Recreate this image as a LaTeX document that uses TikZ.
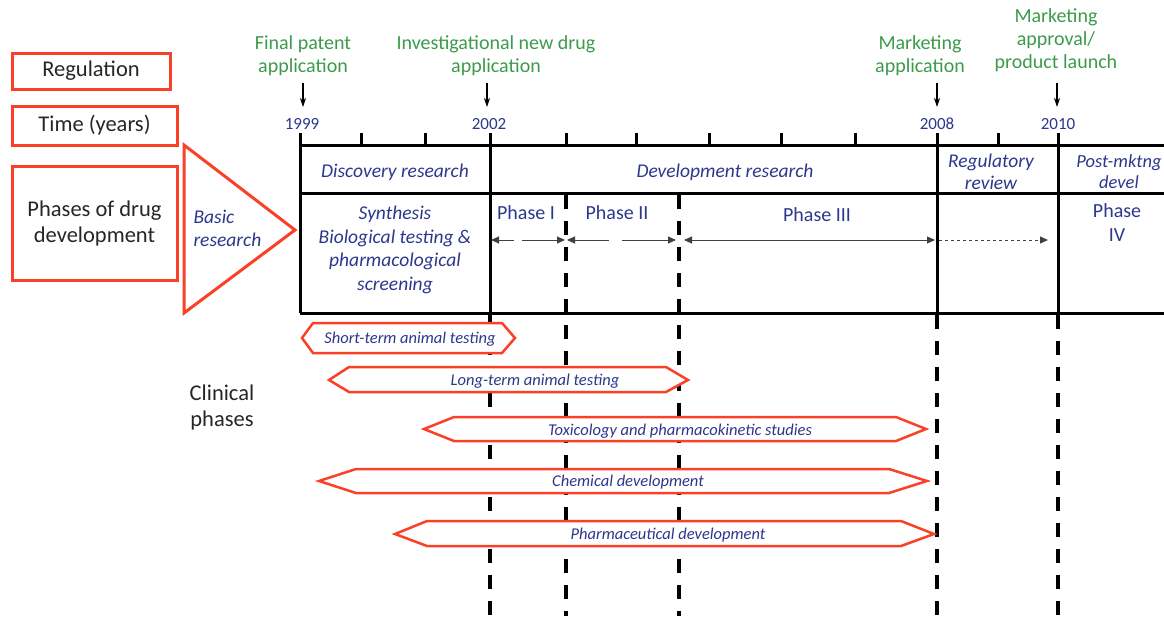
\documentclass[tikz,border=0pt]{standalone}
\usepackage{fontspec}
\setmainfont{Carlito}
\usetikzlibrary{arrows.meta}
\definecolor{regred}{RGB}{250,65,40}
\definecolor{grn}{RGB}{60,155,75}
\definecolor{navy}{RGB}{45,55,140}
\begin{document}
\begin{tikzpicture}[x=1pt,y=-1pt,
  redbox/.style={draw=regred,line width=3pt},
  lbl/.style={font=\fontsize{22.5}{26}\selectfont,align=center,text=black!85},
  grntxt/.style={font=\fontsize{20}{23}\selectfont,align=center,text=grn},
  yr/.style={font=\fontsize{17}{18}\selectfont,text=navy},
  itl/.style={font=\fontsize{19.5}{23}\selectfont\itshape,text=navy,align=center},
  ph/.style={font=\fontsize{20}{24}\selectfont,text=navy,align=center},
  bar/.style={draw=regred,line width=2.5pt,line join=miter},
  bartxt/.style={font=\fontsize{16.5}{18}\selectfont\itshape,text=navy},
  axisline/.style={line width=3pt},
  vdash/.style={line width=3.5pt,dash pattern=on 14pt off 12pt},
  parr/.style={draw=black!75,line width=1pt,-{Triangle[length=8pt,width=7pt]}},
  regarr/.style={line width=1.2pt,-{Stealth[length=9pt,width=6pt]}}
]
\useasboundingbox (0,0) rectangle (1164,616);

% left labels
\node[redbox,lbl,minimum width=158pt,minimum height=36pt] (reg) at (91,71) {Regulation};
\node[redbox,lbl,minimum width=165pt,minimum height=39pt] (time) at (94.5,125.5) {Time (years)};
\node[redbox,lbl,minimum width=165pt,minimum height=114pt] (phases) at (94.5,223) {Phases of drug\\development};
\draw[redbox] (184,145) -- (295,230) -- (184,313) -- cycle;
\node[itl,align=left,anchor=west] (basic) at (190,228) {Basic\\research};
\node[lbl] (clin) at (222,407) {Clinical\\phases};

% green regulation labels
\node[grntxt] (fpa) at (303,56) {Final patent\\application};
\node[grntxt] (ind) at (496,56) {Investigational new drug\\application};
\node[grntxt] (ma) at (920,56) {Marketing\\application};
\node[grntxt] (map) at (1056,40) {Marketing\\approval/\\product launch};
\coordinate (fpaA) at (303,83); \coordinate (fpaB) at (303,107);
\coordinate (indA) at (487,83); \coordinate (indB) at (487,107);
\coordinate (maA) at (937,83); \coordinate (maB) at (937,107);
\coordinate (mapA) at (1057,83); \coordinate (mapB) at (1057,107);
\draw[regarr] (fpaA) -- (fpaB);
\draw[regarr] (indA) -- (indB);
\draw[regarr] (maA) -- (maB);
\draw[regarr] (mapA) -- (mapB);

% years
\node[yr] (y1999) at (302,124) {1999};
\node[yr] (y2002) at (489,124) {2002};
\node[yr] (y2008) at (937,124) {2008};
\node[yr] (y2010) at (1058,124) {2010};

% dashed verticals (behind)
\foreach \x in {566,679} \draw[vdash] (\x,195) -- (\x,616);
\foreach \x in {490,937,1058} \draw[vdash] (\x,315) -- (\x,616);

% timeline frame
\draw[axisline] (300,145) -- (1164,145);
\draw[axisline] (300,193) -- (1164,193);
\draw[axisline] (300,313) -- (1164,313);
\foreach \x in {300,490,937,1058} \draw[axisline] (\x,133) -- (\x,313);
\foreach \x in {361,425,566,636,709,781,855,998} \draw[axisline] (\x,133) -- (\x,145);

% header texts
\node[itl] (disc) at (395,172) {Discovery research};
\node[itl] (dev) at (725,172) {Development research};
\node[itl,font=\fontsize{19.5}{22}\selectfont\itshape] (regrev) at (991,172) {Regulatory\\review};
\node[itl,font=\fontsize{18.5}{21}\selectfont\itshape] (post) at (1119,172) {Post-mktng\\devel};

% phase row
\node[itl,font=\fontsize{19.5}{23.5}\selectfont\itshape] (synth) at (395,250) {Synthesis\\Biological testing \&\\pharmacological\\screening};
\node[ph] (p1) at (526,213) {Phase I};
\node[ph] (p2) at (617,213) {Phase II};
\node[ph] (p3) at (817,215) {Phase III};
\node[ph] (p4) at (1117,223) {Phase\\IV};

\coordinate (a1) at (491,240); \coordinate (a1m) at (514,240);
\coordinate (a1n) at (522,240); \coordinate (a1e) at (565,240);
\coordinate (a2) at (567,240); \coordinate (a2m) at (609,240);
\coordinate (a2n) at (622,240); \coordinate (a2e) at (676,240);
\coordinate (a3) at (684,240); \coordinate (a3e) at (935,240);
\coordinate (a4) at (939,240); \coordinate (a4e) at (1048,240);
\draw[parr] (a1m) -- (a1);
\draw[parr] (a1n) -- (a1e);
\draw[parr] (a2m) -- (a2);
\draw[parr] (a2n) -- (a2e);
\draw[parr,{Triangle[length=8pt,width=7pt]}-{Triangle[length=8pt,width=7pt]}] (a3) -- (a3e);
\draw[parr,dashed,dash pattern=on 3pt off 3pt] (a4) -- (a4e);

% clinical bars
\draw[bar,fill=white] (302,338) -- (313,323) -- (502,323) -- (515,338) -- (502,353) -- (313,353) -- cycle;
\node[bartxt] (short) at (410,339) {Short-term animal testing};
\draw[bar,fill=white] (329,380) -- (349,367) -- (666,367) -- (688,380) -- (666,392) -- (349,392) -- cycle;
\node[bartxt] (long) at (535,381) {Long-term animal testing};
\draw[bar,fill=white] (424,429) -- (454,417) -- (896,417) -- (926,429) -- (896,441) -- (454,441) -- cycle;
\node[bartxt] (tox) at (680,431) {Toxicology and pharmacokinetic studies};
\draw[bar,fill=white] (319,481) -- (356,469) -- (889,469) -- (927,481) -- (889,493) -- (356,493) -- cycle;
\node[bartxt] (chem) at (628,482) {Chemical development};
\draw[bar,fill=white] (395,534) -- (427,521) -- (901,521) -- (934,534) -- (901,546) -- (427,546) -- cycle;
\node[bartxt] (pharm) at (668,535) {Pharmaceutical development};
\end{tikzpicture}
\end{document}
